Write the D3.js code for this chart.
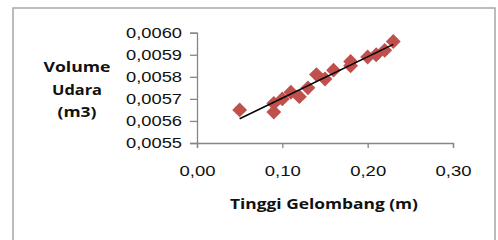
<!DOCTYPE html>
<html>
<head>
<meta charset="utf-8">
<script src="https://cdn.jsdelivr.net/npm/d3@7"></script>
<style>
  body { margin: 0; background: #fff; }
  svg { display: block; font-family: "Open Sans", sans-serif; }
</style>
</head>
<body>
<div id="chart"></div>
<script>
// data
const tinggi = [0.05, 0.09, 0.09, 0.10, 0.11, 0.12, 0.13, 0.14, 0.15, 0.16, 0.18, 0.18, 0.20, 0.21, 0.22, 0.23];
const volume = [0.00565, 0.00564, 0.00568, 0.00570, 0.00573, 0.00571, 0.00575, 0.00581, 0.00579, 0.00583, 0.00585, 0.00587, 0.00589, 0.00590, 0.00592, 0.00596];
const xTicks = [0, 0.1, 0.2, 0.3];
const yTicks = [0.0055, 0.0056, 0.0057, 0.0058, 0.0059, 0.0060];
const yTitle = ['Volume', 'Udara', '(m3)'];
const yTitleWidths = [67, 50, 39];
const xTitle = 'Tinggi Gelombang (m)';

const W = 498, H = 240;
const svg = d3.select('#chart').append('svg')
  .attr('width', W).attr('height', H);

// outer chart border (bottom edge runs off the picture)
svg.append('rect')
  .attr('x', 13).attr('y', 8)
  .attr('width', 482).attr('height', 250)
  .attr('fill', '#fff')
  .attr('stroke', '#a6a6a6')
  .attr('stroke-width', 1.5);

const x = d3.scaleLinear().domain([0, 0.3]).range([197, 453]);
const y = d3.scaleLinear().domain([0.0055, 0.0060]).range([143, 32.7]);

const fmtX = v => d3.format('.2f')(v).replace('.', ',');
const fmtY = v => d3.format('.4f')(v).replace('.', ',');

// y axis
const yAxis = svg.append('g')
  .attr('transform', `translate(${x(0)},0)`)
  .call(d3.axisLeft(y).tickValues(yTicks).tickFormat(fmtY).tickSize(7).tickPadding(8));
yAxis.selectAll('text')
  .attr('font-size', 14)
  .attr('fill', '#111')
  .attr('textLength', 56)
  .attr('lengthAdjust', 'spacingAndGlyphs');

// x axis
const xAxis = svg.append('g')
  .attr('transform', `translate(0,${y(0.0055)})`)
  .call(d3.axisBottom(x).tickValues(xTicks).tickFormat(fmtX).tickSize(5).tickPadding(18));
xAxis.selectAll('text')
  .attr('font-size', 14)
  .attr('fill', '#111')
  .attr('textLength', 36)
  .attr('lengthAdjust', 'spacingAndGlyphs');

svg.selectAll('.domain, .tick line')
  .attr('stroke', '#868686')
  .attr('stroke-width', 1.3);

// markers
const diamond = d3.symbol(d3.symbolSquare, 110)();
svg.append('g')
  .selectAll('path')
  .data(tinggi)
  .join('path')
  .attr('d', diamond)
  .attr('transform', (d, i) => `translate(${x(d)},${y(volume[i])}) rotate(45)`)
  .attr('fill', '#c0504d');

// linear trendline from the data
const mx = d3.mean(tinggi), my = d3.mean(volume);
const slope = d3.sum(tinggi, (d, i) => (d - mx) * (volume[i] - my)) / d3.sum(tinggi, d => (d - mx) ** 2);
const icpt = my - slope * mx;
const ext = d3.extent(tinggi);
svg.append('line')
  .attr('x1', x(ext[0])).attr('y1', y(icpt + slope * ext[0]))
  .attr('x2', x(ext[1])).attr('y2', y(icpt + slope * ext[1]))
  .attr('stroke', '#000')
  .attr('stroke-width', 1.5);

// y title (three lines)
svg.append('g')
  .selectAll('text')
  .data(yTitle)
  .join('text')
  .attr('x', 77)
  .attr('y', (d, i) => 72 + i * 22.5)
  .attr('text-anchor', 'middle')
  .attr('font-size', 15)
  .attr('font-weight', 'bold')
  .attr('fill', '#111')
  .attr('textLength', (d, i) => yTitleWidths[i])
  .attr('lengthAdjust', 'spacingAndGlyphs')
  .text(d => d);

// x title
svg.append('text')
  .attr('x', 324).attr('y', 209)
  .attr('text-anchor', 'middle')
  .attr('font-size', 15)
  .attr('font-weight', 'bold')
  .attr('fill', '#111')
  .attr('textLength', 188)
  .attr('lengthAdjust', 'spacingAndGlyphs')
  .text(xTitle);
</script>
</body>
</html>
